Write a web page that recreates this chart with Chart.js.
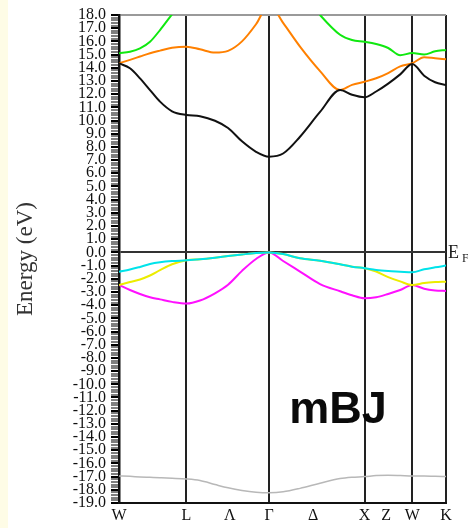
<!DOCTYPE html>
<html>
<head>
<meta charset="utf-8">
<title>mBJ band structure</title>
<script src="https://cdn.jsdelivr.net/npm/chart.js@4.4.1/dist/chart.umd.min.js"></script>
<style>
    html, body { margin: 0; padding: 0; background: #ffffff; }
    #wrap { position: relative; width: 468px; height: 528px; }
    #strip { position: absolute; left: 0; top: 0; width: 8px; height: 528px; background: #fefce6; }
    #bandChart { position: absolute; left: 0; top: 0; }
</style>
</head>
<body>
<div id="wrap">
    <div id="strip"></div>
    <canvas id="bandChart" width="468" height="528"></canvas>
</div>
<script>
// k-path positions (units of 2pi/a) and labels
var kTicks = [0, 0.707, 1.16, 1.573, 2.035, 2.573, 2.80, 3.073, 3.427];
var kLabels = ["W", "L", "\u039B", "\u0393", "\u0394", "X", "Z", "W", "K"];
var kLines = ["W", "L", "\u0393", "X", "K"];

// sample points along the path
var kGrid = [0, 0.115, 0.22, 0.325, 0.43, 0.556, 0.707, 0.849, 1.006, 1.143, 1.289, 1.436, 1.573,
    1.72, 1.897, 2.107, 2.317, 2.442, 2.573, 2.695, 2.821, 2.947, 3.073, 3.198, 3.313, 3.427];

// band energies (eV)
var greenBand = [15.1, 15.22, 15.47, 15.97, 16.86, 18.05, 19.4, null, null, null, null, null, null,
    null, 19.9, 18.0, 16.5, 16.1, 15.97, 15.8, 15.5, 14.95, 15.12, 15.0, 15.25, 15.35];
var orangeBand = [14.34, 14.6, 14.85, 15.1, 15.3, 15.52, 15.6, 15.4, 15.15, 15.28, 16.0, 17.3, 18.8,
    17.4, 15.6, 13.75, 12.31, 12.7, 12.94, 13.2, 13.6, 14.1, 14.34, 14.8, 14.72, 14.64];
var blackBand = [14.34, 13.96, 13.2, 12.31, 11.43, 10.7, 10.42, 10.33, 9.98, 9.43, 8.42, 7.63, 7.26,
    7.5, 8.77, 10.65, 12.31, 11.95, 11.76, 12.2, 12.8, 13.5, 14.28, 13.4, 12.9, 12.69];
var cyanBand = [-1.46, -1.3, -1.1, -0.88, -0.75, -0.66, -0.6, -0.52, -0.4, -0.28, -0.16, -0.05, 0,
    -0.12, -0.45, -0.63, -0.9, -1.08, -1.2, -1.33, -1.41, -1.46, -1.51, -1.28, -1.13, -1.0];
var yellowBand = [-2.47, -2.25, -2.05, -1.75, -1.35, -0.9, -0.6, -0.52, -0.4, -0.28, -0.16, -0.05, 0,
    -0.12, -0.45, -0.63, -0.9, -1.08, -1.2, -1.45, -1.87, -2.2, -2.47, -2.32, -2.25, -2.22];
var magentaBand = [-2.47, -2.85, -3.15, -3.4, -3.56, -3.75, -3.88, -3.65, -3.1, -2.45, -1.4, -0.5, 0,
    -0.65, -1.45, -2.4, -2.95, -3.25, -3.48, -3.4, -3.15, -2.85, -2.47, -2.75, -2.88, -2.93];
var grayBand = [-16.95, -16.98, -17.02, -17.05, -17.08, -17.12, -17.18, -17.3, -17.6, -17.85, -18.05, -18.18, -18.22,
    -18.15, -17.89, -17.5, -17.15, -17.05, -17.0, -16.92, -16.9, -16.92, -16.95, -16.95, -16.98, -17.0];

var yMin = -19;
var yMax = 18;

function toPoints(band) {
    return kGrid.map(function (k, i) {
        return { x: k, y: band[i] };
    });
}

function bandSet(band, color, width) {
    return {
        data: toPoints(band),
        borderColor: color,
        borderWidth: width,
        pointRadius: 0,
        fill: false,
        spanGaps: false,
        cubicInterpolationMode: "monotone"
    };
}

function isWhole(v) {
    return Math.abs(v - Math.round(v)) < 1e-6;
}

// text labels: mBJ and the Fermi level mark
var labelPlugin = {
    id: "labelPlugin",
    afterDraw: function (chart) {
        var ctx = chart.ctx;
        var y = chart.scales.y;
        var area = chart.chartArea;
        ctx.save();
        ctx.fillStyle = "#0a0a0a";
        ctx.font = "bold 45px 'Liberation Sans', Arial, sans-serif";
        ctx.textAlign = "center";
        ctx.textBaseline = "alphabetic";
        ctx.fillText("mBJ", 338, 423);

        var yF = y.getPixelForValue(0);
        ctx.fillStyle = "#222";
        ctx.textAlign = "left";
        ctx.font = "18px 'Liberation Serif', serif";
        ctx.fillText("E", area.right + 2, yF + 6);
        ctx.font = "12px 'Liberation Serif', serif";
        ctx.fillText("F", area.right + 16, yF + 10);
        ctx.restore();
    }
};

document.addEventListener("DOMContentLoaded", function () {
    var ctx = document.getElementById("bandChart").getContext("2d");

    new Chart(ctx, {
        type: "line",
        data: {
            datasets: [
                bandSet(cyanBand, "#00e3ea", 2),
                bandSet(yellowBand, "#ecec00", 2),
                bandSet(magentaBand, "#ff10ff", 2),
                bandSet(blackBand, "#111111", 2),
                bandSet(orangeBand, "#ff8000", 2),
                bandSet(greenBand, "#10e810", 2),
                bandSet(grayBand, "#b8b8b8", 1.5)
            ]
        },
        options: {
            responsive: false,
            animation: false,
            devicePixelRatio: 1,
            layout: {
                padding: { top: 15, right: 22, left: 0, bottom: 0 }
            },
            plugins: {
                legend: { display: false },
                tooltip: { enabled: false }
            },
            scales: {
                x: {
                    type: "linear",
                    min: 0,
                    max: 3.427,
                    afterBuildTicks: function (scale) {
                        scale.ticks = kTicks.map(function (v) { return { value: v }; });
                    },
                    afterFit: function (scale) {
                        scale.height = 25;
                    },
                    ticks: {
                        autoSkip: false,
                        maxRotation: 0,
                        padding: 3,
                        color: "#111",
                        font: { family: "'Liberation Serif', serif", size: 16 },
                        callback: function (value, index) {
                            return kLabels[index];
                        }
                    },
                    grid: {
                        drawTicks: false,
                        lineWidth: 2,
                        color: function (c) {
                            var lbl = kLabels[c.index];
                            return kLines.indexOf(lbl) >= 0 ? "#222" : "rgba(0,0,0,0)";
                        }
                    },
                    border: { color: "#111", width: 2 }
                },
                y: {
                    min: yMin,
                    max: yMax,
                    afterFit: function (scale) {
                        scale.width = 119;
                    },
                    title: {
                        display: true,
                        text: "Energy (eV)",
                        color: "#333",
                        font: { family: "'Liberation Serif', serif", size: 23 },
                        padding: { top: 12, bottom: 0 }
                    },
                    ticks: {
                        stepSize: 0.2,
                        autoSkip: false,
                        padding: 5,
                        color: "#111",
                        font: { family: "'Liberation Serif', serif", size: 16 },
                        callback: function (value) {
                            return isWhole(value) ? Math.round(value).toFixed(1) : "";
                        }
                    },
                    grid: {
                        drawOnChartArea: true,
                        tickLength: 8,
                        tickColor: "#000",
                        tickWidth: function (c) {
                            return isWhole(c.tick.value) ? 2 : 1;
                        },
                        lineWidth: 2,
                        color: function (c) {
                            var v = c.tick.value;
                            if (Math.abs(v - yMax) < 1e-6) return "#9a9a9a";
                            if (Math.abs(v) < 1e-6) return "#333";
                            return "rgba(0,0,0,0)";
                        }
                    },
                    border: { color: "#111", width: 2.5 }
                }
            }
        },
        plugins: [labelPlugin]
    });
});
</script>
</body>
</html>
